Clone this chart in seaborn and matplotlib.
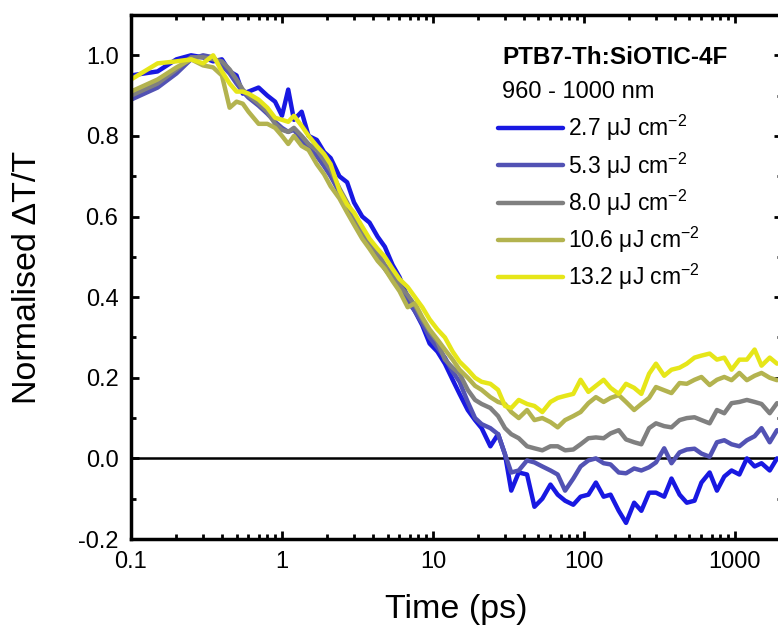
import numpy as np
import pandas as pd
import seaborn as sns
import matplotlib.pyplot as plt
from matplotlib.ticker import FixedLocator, MultipleLocator, LogLocator, NullFormatter, FuncFormatter

# time axis (ps)
time_ps = [0.1, 0.15, 0.2, 0.25, 0.3, 0.35, 0.4, 0.45, 0.5, 0.55, 0.6, 0.7, 0.8, 0.9,
           1.0, 1.1, 1.2, 1.35, 1.5, 1.7, 1.9, 2.1, 2.4, 2.7, 3.0, 3.4, 3.8, 4.3, 4.8,
           5.4, 6.0, 6.8, 7.6, 8.5, 9.5, 10.7, 12, 13.5, 15, 17, 19, 21, 24, 27, 30,
           33, 37, 42, 47, 53, 60, 67, 75, 85, 95, 107, 120, 135, 150, 170, 190, 215,
           240, 270, 300, 340, 380, 430, 480, 540, 600, 680, 760, 850, 950, 1070,
           1200, 1350, 1500, 1700, 1900]

dt_2p7 = [0.95, 0.96, 0.99, 1.0, 0.995, 0.985, 0.99, 0.96, 0.95, 0.905, 0.91, 0.92, 0.90, 0.885,
          0.85, 0.915, 0.84, 0.86, 0.80, 0.79, 0.76, 0.745, 0.70, 0.685, 0.635, 0.60, 0.585, 0.55, 0.525,
          0.48, 0.45, 0.40, 0.365, 0.33, 0.285, 0.265, 0.235, 0.195, 0.16, 0.12, 0.095, 0.075, 0.03, 0.06, 0.01,
          -0.08, -0.035, -0.04, -0.12, -0.10, -0.065, -0.09, -0.105, -0.115, -0.095, -0.09, -0.06, -0.095, -0.09, -0.13, -0.16, -0.11,
          -0.13, -0.085, -0.085, -0.095, -0.05, -0.09, -0.11, -0.105, -0.06, -0.035, -0.08, -0.045, -0.03, -0.04,
          0.0, -0.02, -0.012, -0.03, 0.0]

dt_5p3 = [0.89, 0.92, 0.955, 0.99, 1.0, 0.995, 0.975, 0.955, 0.93, 0.91, 0.895, 0.875, 0.855, 0.835,
          0.82, 0.81, 0.815, 0.79, 0.77, 0.75, 0.725, 0.70, 0.66, 0.62, 0.595, 0.55, 0.525, 0.50, 0.47,
          0.445, 0.42, 0.39, 0.365, 0.335, 0.30, 0.275, 0.25, 0.215, 0.19, 0.14, 0.10, 0.085, 0.075, 0.06, 0.01,
          -0.035, -0.03, -0.005, -0.01, -0.02, -0.03, -0.04, -0.08, -0.05, -0.02, -0.005, 0.0, -0.012, -0.015, -0.035, -0.037, -0.025,
          -0.03, -0.022, -0.01, 0.025, -0.012, 0.015, 0.022, 0.024, 0.012, 0.004, 0.04, 0.045, 0.035, 0.03,
          0.045, 0.055, 0.075, 0.04, 0.07]

dt_8p0 = [0.90, 0.93, 0.965, 0.995, 0.995, 0.99, 0.985, 0.965, 0.94, 0.915, 0.90, 0.88, 0.86, 0.83,
          0.815, 0.81, 0.82, 0.80, 0.78, 0.765, 0.74, 0.715, 0.67, 0.635, 0.60, 0.565, 0.535, 0.51, 0.48,
          0.455, 0.43, 0.405, 0.38, 0.345, 0.315, 0.29, 0.245, 0.225, 0.21, 0.17, 0.145, 0.135, 0.125, 0.105, 0.075,
          0.06, 0.05, 0.03, 0.025, 0.02, 0.03, 0.03, 0.02, 0.022, 0.035, 0.05, 0.052, 0.05, 0.062, 0.07, 0.047, 0.04,
          0.035, 0.075, 0.087, 0.08, 0.077, 0.095, 0.10, 0.102, 0.095, 0.087, 0.12, 0.112, 0.137, 0.14,
          0.145, 0.14, 0.135, 0.112, 0.137]

dt_10p6 = [0.91, 0.94, 0.97, 0.99, 0.975, 0.97, 0.95, 0.87, 0.885, 0.88, 0.86, 0.83, 0.83, 0.82,
           0.80, 0.78, 0.80, 0.775, 0.765, 0.73, 0.705, 0.675, 0.645, 0.61, 0.58, 0.545, 0.52, 0.49, 0.47,
           0.44, 0.415, 0.375, 0.385, 0.35, 0.32, 0.295, 0.27, 0.245, 0.22, 0.20, 0.18, 0.17, 0.152, 0.14, 0.135,
           0.115, 0.10, 0.12, 0.095, 0.10, 0.09, 0.077, 0.095, 0.105, 0.115, 0.137, 0.152, 0.14, 0.15, 0.157, 0.14, 0.12,
           0.135, 0.15, 0.177, 0.169, 0.162, 0.187, 0.185, 0.195, 0.202, 0.182, 0.195, 0.202, 0.194, 0.212,
           0.194, 0.205, 0.212, 0.20, 0.194]

dt_13p2 = [0.94, 0.98, 0.985, 0.99, 0.98, 1.0, 0.96, 0.93, 0.91, 0.91, 0.905, 0.89, 0.87, 0.845,
           0.84, 0.835, 0.85, 0.825, 0.80, 0.775, 0.755, 0.73, 0.665, 0.63, 0.61, 0.575, 0.545, 0.52, 0.50,
           0.47, 0.445, 0.425, 0.40, 0.375, 0.345, 0.32, 0.30, 0.265, 0.24, 0.22, 0.20, 0.19, 0.185, 0.17, 0.13,
           0.125, 0.145, 0.135, 0.13, 0.115, 0.14, 0.15, 0.155, 0.16, 0.195, 0.165, 0.18, 0.195, 0.175, 0.16, 0.185, 0.175,
           0.16, 0.21, 0.235, 0.205, 0.22, 0.225, 0.235, 0.25, 0.255, 0.26, 0.245, 0.25, 0.22, 0.245,
           0.245, 0.27, 0.23, 0.25, 0.235]

labels = ['2.7 μJ cm$^{-2}$', '5.3 μJ cm$^{-2}$', '8.0 μJ cm$^{-2}$',
          '10.6 μJ cm$^{-2}$', '13.2 μJ cm$^{-2}$']
colors = ['#1818e2', '#5252b4', '#808080', '#b3b34f', '#e6e619']
x_ticks = [0.1, 1, 10, 100, 1000]
y_ticks = [-0.2, 0.0, 0.2, 0.4, 0.6, 0.8, 1.0]

frames = []
for lab, vals in zip(labels, [dt_2p7, dt_5p3, dt_8p0, dt_10p6, dt_13p2]):
    frames.append(pd.DataFrame({'t': time_ps, 'dT': vals, 'fluence': lab}))
df = pd.concat(frames)

sns.set_style('ticks')
plt.rcParams['font.family'] = ['Liberation Sans', 'DejaVu Sans']
plt.rcParams['mathtext.fontset'] = 'custom'
plt.rcParams['mathtext.rm'] = 'Liberation Sans'
plt.rcParams['mathtext.it'] = 'Liberation Sans:italic'
plt.rcParams['axes.unicode_minus'] = False
plt.rcParams['text.color'] = 'black'
plt.rcParams['axes.labelcolor'] = 'black'

fig = plt.figure(figsize=(7.78, 6.28), dpi=100)
ax = fig.add_axes([131/778, 89/628, (782-131)/778, (539-15)/628])

ax.axhline(0, color='black', lw=1.8, zorder=1)
sns.lineplot(data=df, x='t', y='dT', hue='fluence', hue_order=labels,
             palette=colors, lw=3.2, ax=ax, zorder=2, estimator=None, sort=False)

ax.set_xscale('log')
ax.set_xlim(0.1, 2050)
ax.set_ylim(-0.2, 1.1)

ax.xaxis.set_major_locator(FixedLocator(x_ticks))
ax.xaxis.set_major_formatter(FuncFormatter(lambda v, p: '%g' % v))
ax.xaxis.set_minor_locator(LogLocator(base=10, subs=np.arange(2, 10)))
ax.xaxis.set_minor_formatter(NullFormatter())
ax.yaxis.set_major_locator(FixedLocator(y_ticks))
ax.yaxis.set_major_formatter(FuncFormatter(lambda v, p: '%.1f' % v))
ax.yaxis.set_minor_locator(MultipleLocator(0.1))

for s in ax.spines.values():
    s.set_linewidth(2.5)
    s.set_color('black')
ax.tick_params(which='both', direction='in', top=True, right=True, width=2,
               labelsize=17, pad=9, color='black', labelcolor='black')
ax.tick_params(which='major', length=6)
ax.tick_params(which='minor', length=3.5)

ax.set_xlabel('Time (ps)', fontsize=24.5, labelpad=15, color='black')
ax.set_ylabel('Normalised ΔT/T', fontsize=24.5, labelpad=25, color='black')

leg = ax.legend(loc='upper left', bbox_to_anchor=(498/778, 1 - 113/628),
                bbox_transform=fig.transFigure, frameon=False, fontsize=16.5,
                handlelength=2.84, handletextpad=0.22, labelspacing=0.31, borderpad=0,
                borderaxespad=0)
for h in leg.get_lines():
    h.set_linewidth(3.2)
for t in leg.get_texts():
    t.set_color('black')

fig.text(502/778, 1 - 57/628, 'PTB7-Th:SiOTIC-4F', fontsize=17.5, weight='bold', va='center', color='black')
fig.text(502/778, 1 - 92/628, '960 - 1000 nm', fontsize=17, va='center', color='black')

fig.savefig('out.png', dpi=100)
